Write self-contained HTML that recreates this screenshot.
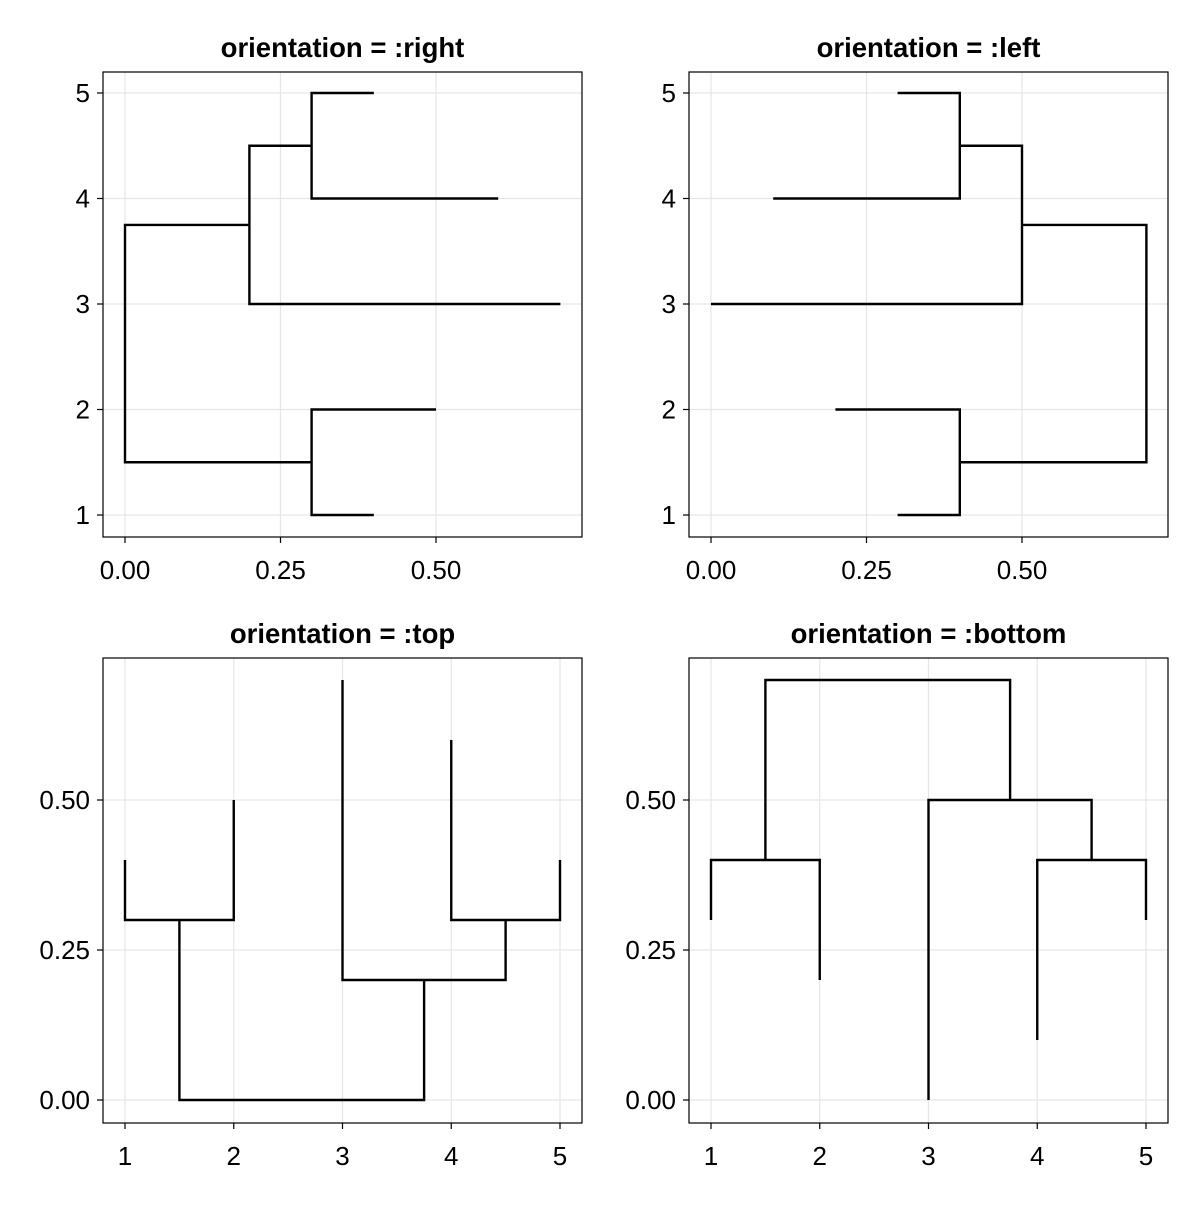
<!DOCTYPE html>
<html><head><meta charset="utf-8"><style>
html,body{margin:0;padding:0;background:#fff;}
svg text{font-family:"Liberation Sans",sans-serif;fill:#000;}
.t{font-size:27.5px;font-weight:bold;text-anchor:middle;}
.tk{font-size:26px;}
.g{stroke:#e6e6e6;stroke-width:1.2;}
.d{fill:none;stroke:#000;stroke-width:2.4;}
.b{fill:none;stroke:#000;stroke-width:1.2;}
.m{stroke:#000;stroke-width:1.2;}
</style></head><body>
<svg width="1200" height="1200" viewBox="0 0 1200 1200" xmlns="http://www.w3.org/2000/svg">
<rect width="1200" height="1200" fill="#fff"/>
<!-- Panel 1 -->
<text class="t" x="342.5" y="57">orientation = :right</text>
<g class="g"><line x1="125" y1="72" x2="125" y2="537"/><line x1="280.5" y1="72" x2="280.5" y2="537"/><line x1="436" y1="72" x2="436" y2="537"/>
<line x1="103" y1="93" x2="582" y2="93"/><line x1="103" y1="198.5" x2="582" y2="198.5"/><line x1="103" y1="304" x2="582" y2="304"/><line x1="103" y1="409.5" x2="582" y2="409.5"/><line x1="103" y1="515" x2="582" y2="515"/></g>
<rect class="b" x="103" y="72" width="479" height="465"/>
<g class="m"><line x1="125" y1="537" x2="125" y2="543"/><line x1="280.5" y1="537" x2="280.5" y2="543"/><line x1="436" y1="537" x2="436" y2="543"/>
<line x1="97" y1="93" x2="103" y2="93"/><line x1="97" y1="198.5" x2="103" y2="198.5"/><line x1="97" y1="304" x2="103" y2="304"/><line x1="97" y1="409.5" x2="103" y2="409.5"/><line x1="97" y1="515" x2="103" y2="515"/></g>
<g class="tk" text-anchor="middle"><text x="125" y="579">0.00</text><text x="280.5" y="579">0.25</text><text x="436" y="579">0.50</text></g>
<g class="tk" text-anchor="end"><text x="90" y="102">5</text><text x="90" y="207.5">4</text><text x="90" y="313">3</text><text x="90" y="418.5">2</text><text x="90" y="524">1</text></g>
<path class="d" d="M373.8,515 H311.6 V409.5 H436 M373.8,93 H311.6 V198.5 H498.2 M311.6,145.75 H249.4 V304 H560.4 M311.6,462.25 H125 V224.9 H249.4"/>
<!-- Panel 2 -->
<text class="t" x="928.5" y="57">orientation = :left</text>
<g class="g"><line x1="711" y1="72" x2="711" y2="537"/><line x1="866.5" y1="72" x2="866.5" y2="537"/><line x1="1022" y1="72" x2="1022" y2="537"/>
<line x1="689" y1="93" x2="1168" y2="93"/><line x1="689" y1="198.5" x2="1168" y2="198.5"/><line x1="689" y1="304" x2="1168" y2="304"/><line x1="689" y1="409.5" x2="1168" y2="409.5"/><line x1="689" y1="515" x2="1168" y2="515"/></g>
<rect class="b" x="689" y="72" width="479" height="465"/>
<g class="m"><line x1="711" y1="537" x2="711" y2="543"/><line x1="866.5" y1="537" x2="866.5" y2="543"/><line x1="1022" y1="537" x2="1022" y2="543"/>
<line x1="683" y1="93" x2="689" y2="93"/><line x1="683" y1="198.5" x2="689" y2="198.5"/><line x1="683" y1="304" x2="689" y2="304"/><line x1="683" y1="409.5" x2="689" y2="409.5"/><line x1="683" y1="515" x2="689" y2="515"/></g>
<g class="tk" text-anchor="middle"><text x="711" y="579">0.00</text><text x="866.5" y="579">0.25</text><text x="1022" y="579">0.50</text></g>
<g class="tk" text-anchor="end"><text x="676" y="102">5</text><text x="676" y="207.5">4</text><text x="676" y="313">3</text><text x="676" y="418.5">2</text><text x="676" y="524">1</text></g>
<path class="d" d="M897.6,515 H959.8 V409.5 H835.4 M897.6,93 H959.8 V198.5 H773.2 M959.8,145.75 H1022 V304 H711 M959.8,462.25 H1146.4 V224.9 H1022"/>
<!-- Panel 3 -->
<text class="t" x="342.5" y="643">orientation = :top</text>
<g class="g"><line x1="125" y1="658" x2="125" y2="1123"/><line x1="233.75" y1="658" x2="233.75" y2="1123"/><line x1="342.5" y1="658" x2="342.5" y2="1123"/><line x1="451.25" y1="658" x2="451.25" y2="1123"/><line x1="560" y1="658" x2="560" y2="1123"/>
<line x1="103" y1="800" x2="582" y2="800"/><line x1="103" y1="950" x2="582" y2="950"/><line x1="103" y1="1100" x2="582" y2="1100"/></g>
<rect class="b" x="103" y="658" width="479" height="465"/>
<g class="m"><line x1="125" y1="1123" x2="125" y2="1129"/><line x1="233.75" y1="1123" x2="233.75" y2="1129"/><line x1="342.5" y1="1123" x2="342.5" y2="1129"/><line x1="451.25" y1="1123" x2="451.25" y2="1129"/><line x1="560" y1="1123" x2="560" y2="1129"/>
<line x1="97" y1="800" x2="103" y2="800"/><line x1="97" y1="950" x2="103" y2="950"/><line x1="97" y1="1100" x2="103" y2="1100"/></g>
<g class="tk" text-anchor="middle"><text x="125" y="1165">1</text><text x="233.75" y="1165">2</text><text x="342.5" y="1165">3</text><text x="451.25" y="1165">4</text><text x="560" y="1165">5</text></g>
<g class="tk" text-anchor="end"><text x="90" y="809">0.50</text><text x="90" y="959">0.25</text><text x="90" y="1109">0.00</text></g>
<path class="d" d="M125,860 V920 H233.75 V800 M451.25,740 V920 H560 V860 M505.6,920 V980 H342.5 V680 M179.4,920 V1100 H424.1 V980"/>
<!-- Panel 4 -->
<text class="t" x="928.5" y="643">orientation = :bottom</text>
<g class="g"><line x1="711" y1="658" x2="711" y2="1123"/><line x1="819.75" y1="658" x2="819.75" y2="1123"/><line x1="928.5" y1="658" x2="928.5" y2="1123"/><line x1="1037.25" y1="658" x2="1037.25" y2="1123"/><line x1="1146" y1="658" x2="1146" y2="1123"/>
<line x1="689" y1="800" x2="1168" y2="800"/><line x1="689" y1="950" x2="1168" y2="950"/><line x1="689" y1="1100" x2="1168" y2="1100"/></g>
<rect class="b" x="689" y="658" width="479" height="465"/>
<g class="m"><line x1="711" y1="1123" x2="711" y2="1129"/><line x1="819.75" y1="1123" x2="819.75" y2="1129"/><line x1="928.5" y1="1123" x2="928.5" y2="1129"/><line x1="1037.25" y1="1123" x2="1037.25" y2="1129"/><line x1="1146" y1="1123" x2="1146" y2="1129"/>
<line x1="683" y1="800" x2="689" y2="800"/><line x1="683" y1="950" x2="689" y2="950"/><line x1="683" y1="1100" x2="689" y2="1100"/></g>
<g class="tk" text-anchor="middle"><text x="711" y="1165">1</text><text x="819.75" y="1165">2</text><text x="928.5" y="1165">3</text><text x="1037.25" y="1165">4</text><text x="1146" y="1165">5</text></g>
<g class="tk" text-anchor="end"><text x="676" y="809">0.50</text><text x="676" y="959">0.25</text><text x="676" y="1109">0.00</text></g>
<path class="d" d="M711,920 V860 H819.75 V980 M1037.25,1040 V860 H1146 V920 M1091.6,860 V800 H928.5 V1100 M765.4,860 V680 H1010.1 V800"/>
</svg>
</body></html>
